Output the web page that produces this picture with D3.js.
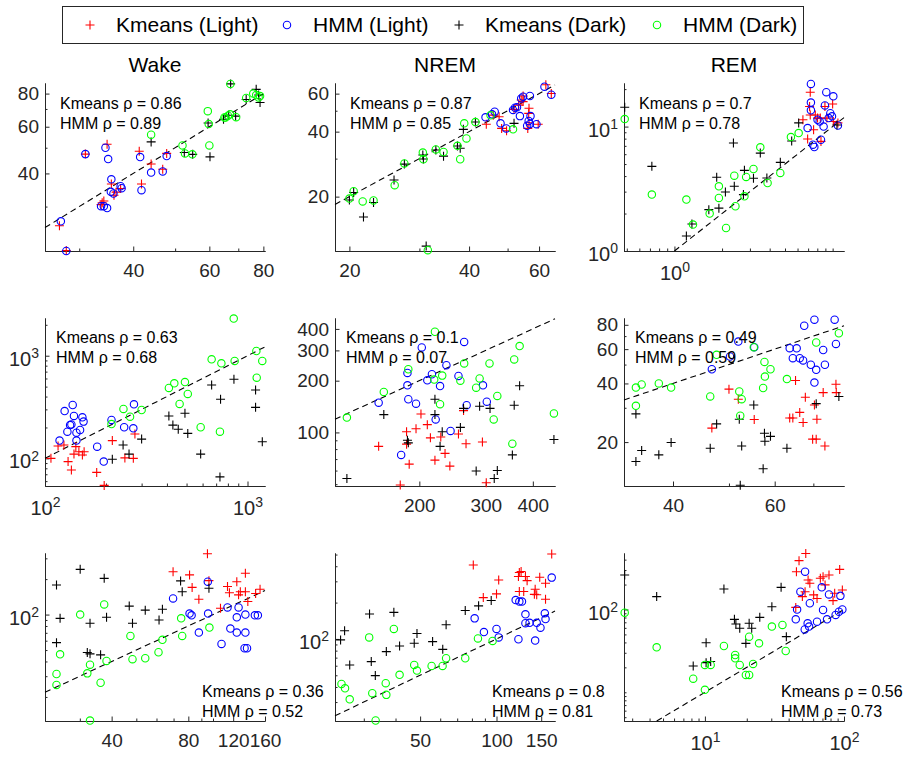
<!DOCTYPE html>
<html>
<head>
<meta charset="utf-8">
<script src="https://cdn.jsdelivr.net/npm/d3@7"></script>
<style>
  body { margin: 0; background: #fff; }
</style>
</head>
<body>
<svg id="chart" width="908" height="757"></svg>
<script>
// categories
var titles = ["Wake", "NREM", "REM"];
var seriesNames = ["Kmeans (Light)", "HMM (Light)", "Kmeans (Dark)", "HMM (Dark)"];
var seriesColors = ["#ff0000", "#0000ff", "#000000", "#00ff00"];
var seriesShapes = ["plus", "circle", "plus", "circle"];

// spearman rho, [Kmeans, HMM], one pair per panel (row by row)
var rhoKmeans = [0.86, 0.87, 0.7, 0.63, 0.1, 0.49, 0.36, 0.8, 0.56];
var rhoHmm = [0.89, 0.85, 0.78, 0.68, 0.07, 0.59, 0.52, 0.81, 0.73];

// row 1, Wake
var r1WakeKmL = [[27,25.4],[28,20.5],[31,47.3],[34.8,51.5],[33.9,31],[33.7,30.5],[34.2,31.5],[35.6,36.5],[36.1,33.1],[37.4,35.1],[41.8,36.5],[41.3,48.5],[44,43.4],[46.8,41.5],[47.8,47.6],[36.5,34]];
var r1WakeHmL = [[27.2,26.4],[28,20.4],[31,47.3],[34.5,50],[35,45.3],[35.6,38],[33.7,30.1],[34.2,30.1],[34.8,29.6],[35.5,34.1],[36,33.6],[37.4,35.8],[37.6,35.2],[41.5,46.1],[41.8,34.6],[44,40.3],[46.8,40.7],[47.8,46.5]];
var r1WakeKmD = [[44,52.6],[52.5,48],[54.9,47.2],[59.6,62],[60.2,46.2],[64.7,64],[66.5,66.3],[69,65.8],[67.2,87],[73,76],[77,83],[78.6,74],[78,79]];
var r1WakeHmD = [[44,56],[52,51],[52.7,47.6],[54.8,47.2],[59.5,68.7],[59.8,61.4],[60,51],[65,65],[65.4,65],[66.3,66],[67,66.8],[69.2,65.2],[67.1,87],[73,77],[75.8,80],[77,79],[78,77.4],[78.6,78.3]];
// row 1, NREM
var r1NremKmL = [[44.2,43.3],[47.6,46.9],[48.3,41.4],[49.7,40.4],[51.9,50.7],[53.3,53.1],[54.1,56.1],[54.7,58.5],[56.6,51.3],[56.5,48.6],[56.2,41.4],[56.6,44],[59.7,43.3],[62.4,66],[64.4,60.1],[46,47.7],[54.7,55.1]];
var r1NremHmL = [[44,46.6],[46.4,49.5],[48,43.7],[49.6,41.4],[51.6,50.4],[52.2,51.6],[52.8,51.9],[53.7,47.2],[54.1,57],[54.7,58.1],[56.9,58.5],[57.1,47.2],[56.5,44.8],[56.9,43.4],[56,42.6],[59.1,43.3],[61.9,64.6],[64.4,59.3],[45.7,48.1]];
var r1NremKmD = [[20,19.3],[20.5,20.9],[21.7,16.1],[23,18.8],[25.9,23.9],[27.5,28.3],[30.6,31.2],[30.7,29.9],[33,32.9],[34.5,30.8],[37.4,34.3],[38,33.5],[38.7,41],[41.5,44.3],[51.9,43.7],[31.2,11.8]];
var r1NremHmD = [[20,19.6],[20.5,21.2],[21.6,19],[23,19.2],[26,22.6],[27.5,28.5],[30.6,32],[30.7,29.8],[33,33.1],[34.5,32.2],[37.4,34.4],[38,29.8],[39.4,37.2],[38.9,43.7],[41.5,44.3],[45.3,47.6],[51.6,41],[31.5,11.3]];
// row 1, REM
var r1RemKmL = [[7.22,18.9],[7.15,14.5],[7.22,12.4],[6.49,11.35],[7.58,9.44],[6.95,7.94],[8.44,7.6],[8.36,11.7],[8.94,14.5],[10,15.2],[10.1,11],[9.2,11.7],[8.03,11.7],[10.8,10.7],[7.77,12.4]];
var r1RemHmL = [[7.29,22],[7.29,15.6],[7.29,13.5],[9.12,18.9],[10.1,17.5],[8.94,14.8],[6.95,9.73],[7.51,7.15],[7.66,6.85],[8.03,11.35],[8.28,11],[8.77,10],[9.67,12.8],[9.91,12.1],[10.8,10.2],[8.44,7.84],[9.44,11.7]];
var r1RemKmD = [[0.485,14.3],[0.72,4.79],[1.19,1.32],[1.29,1.65],[1.65,2.15],[1.91,2.21],[2.1,2.98],[2.39,3.31],[1.85,3.91],[2.36,7.38],[2.77,4.45],[2.73,2.84],[3.16,3.84],[3.49,6.12],[3.84,3.86],[4.67,5.16],[5.51,7.65],[6.1,10.7],[10.65,10.3]];
var r1RemHmD = [[0.485,11.5],[0.72,2.84],[1.19,2.59],[1.31,1.63],[1.67,2],[1.91,3.31],[1.91,2.67],[2.12,1.53],[2.39,4.03],[2.43,2.29],[2.77,2.75],[2.84,3.94],[3.16,4.56],[3.49,6.81],[3.88,3.52],[4.67,4.24],[5.45,8.24],[6.1,8.87]];
// row 2, Wake
var r2WakeKmL = [[107,100],[116,132],[124,135],[130,93],[135,77],[139,110],[142,130],[147,116],[153,108],[156,116],[180,73],[196,54.5],[215,149],[248,101],[273,100],[278,173]];
var r2WakeHmL = [[118,149],[125,289],[137,331],[139,259],[135,214],[129,182],[143,178],[149,189],[153,251],[155,228],[143,149],[181,130],[195,93],[213,237],[246,201],[275,336],[273,196],[133,211]];
var r2WakeKmD = [[215,98],[243,135],[260,110],[300,154],[409,259],[428,211],[455,192],[491,275],[507,175],[587,110],[665,519],[736,376],[857,589],[1096,463],[1096,314],[1183,145],[731,66]];
var r2WakeHmD = [[213,216],[244,303],[263,255],[300,296],[409,485],[435,538],[491,554],[507,424],[462,339],[587,201],[665,923],[743,843],[864,889],[855,2300],[1106,1112],[1183,889],[1110,611],[731,182]];
// row 2, NREM
var r2NremKmL = [[156,83],[178,49.5],[185,101],[185,85.5],[188,65.4],[196,105],[202,128],[210,111],[214,93],[220,69],[228,94],[234,75.5],[241,63.7],[254,98],[262,134],[266,86],[294,88],[301,51]];
var r2NremHmL = [[156,149],[179,74],[186,188],[186,222],[187,156],[196,147],[203,312],[210,201],[216,218],[221,119],[227,186],[236,246],[242,102],[254,213],[263,336],[267,144],[295,188],[302,151]];
var r2NremKmD = [[128.5,54],[161,127],[186,90],[187,87],[220,156],[220,127],[227,83],[230,101],[257,107],[262,138],[283,59.6],[289,142],[308,138],[316,54],[322,60],[353,74],[357,144],[369,187],[455,91]];
var r2NremHmD = [[128.5,122],[161,172],[187,233],[220,385],[219,203],[227,146],[230,214],[257,200],[263,252],[283,182],[289,206],[307,252],[315,119],[322,163],[353,86],[357,266],[369,318],[455,129]];
// row 2, REM
var r2RemKmL = [[46.7,23.6],[50,37.4],[51.9,33.2],[55.3,26.1],[63.7,26.6],[64.5,26.6],[65.2,41.4],[66.3,28.4],[67.2,25.2],[67.8,34],[69.8,20.7],[70.3,31],[71,26.2],[70.8,20.7],[72.8,35.9],[73.3,19.1],[76.6,39.6],[76.7,35.9]];
var r2RemHmL = [[46.7,47.3],[50.2,55],[51.9,65.6],[55.3,61.4],[63.7,60.7],[64.5,53.9],[65.5,60.6],[66.3,53.9],[67.2,52.5],[67.5,79.1],[69.3,49.9],[70.3,85],[70.8,47],[70.3,40.4],[72.8,59.4],[73.3,49.9],[76.2,85],[76.6,63.8]];
var r2RemKmD = [[34.5,27.9],[34.5,15.9],[35.3,18.1],[37.8,17.2],[39.7,19.9],[46.4,18.6],[47.6,24.8],[52.1,26.2],[52.6,19.1],[52.3,12],[55.2,31],[57.3,14.6],[57.6,22.2],[57.7,20.2],[59,21.4],[63,18.6],[70.8,31.5],[77.5,34.3]];
var r2RemHmD = [[34.5,38.1],[34.5,30.7],[35.3,39.5],[37.8,40],[39.7,38.1],[46.4,34.3],[47.6,56.1],[52.1,36.4],[52.6,33.2],[52.3,27.3],[55.2,61.4],[57.3,37.9],[57.6,51.6],[57.7,43.4],[59,47.3],[63,42.1],[70.8,64.9],[77.5,72.4]];
// row 3, Wake
var r3WakeKmL = [[69.7,231],[80.9,217],[82.8,170],[88,135],[95.1,328],[96.4,194],[107,113],[114,173],[116,153],[124,190],[126,147],[128,156],[134,224],[134,156],[137,129],[147,151],[153,164]];
var r3WakeHmL = [[69.7,137],[80.9,102],[82.4,98.6],[88,70.3],[95.4,190],[95.7,102],[108,56.4],[114,115],[117,76],[124,94.8],[126,115],[124,70.3],[134,100],[134,70.3],[133,51.8],[136,51.8],[146,98.6],[150,98.6]];
var r3WakeKmD = [[24.3,178],[24.3,57.8],[25.1,92.9],[30.1,242],[32.1,47.6],[32.9,84.3],[32.9,46.4],[36.2,45.5],[37.4,203],[38.2,94.8],[46.9,118],[48.3,84.3],[54.2,109],[63.3,111],[61.4,90],[74.6,193],[75.7,156],[96.4,167]];
var r3WakeHmD = [[24.3,31.3],[24.3,25.3],[25.1,46],[30.1,100],[32.1,31.7],[32.9,37.6],[32.9,12.6],[36.2,26.4],[37.4,122],[38.2,40.4],[47.4,65.9],[48.3,41.8],[54.2,42.6],[61.1,47.9],[63.3,61],[75,93],[75.7,65.9],[96.8,77.5]];
// row 3, NREM
var r3NremKmL = [[81,410],[88.7,220],[100,236],[102,308],[122,329],[123,355],[125,362],[123,247],[130,329],[132,304],[128,247],[142,258],[144,232],[148,324],[156,289],[156,213],[165,505],[141,234]];
var r3NremHmL = [[82,148],[89.2,114],[100,121],[102,103],[119,210],[123,204],[126,204],[122,99.4],[130,160],[130,135],[135,136],[142,96.9],[144,136],[149,124],[155,163],[156,146],[165,322]];
var r3NremKmD = [[24.3,98.2],[25.2,117],[26.4,60.9],[31.6,161],[32.1,64.9],[33.3,49.7],[36.8,78.5],[39.4,166],[41.5,87.5],[47.4,92.1],[48.6,111],[56,95],[61.4,82],[63.3,131],[75.3,172],[85,188],[95.3,208]];
var r3NremHmD = [[24.5,42.4],[25.3,39],[26.4,31.6],[31.5,103],[32.4,35.5],[33.4,21.1],[36.6,43],[36.8,34.4],[39.4,121],[41.5,50.4],[47.4,60.9],[48.6,54.7],[55.5,59.7],[61.3,59.7],[63.3,69.2],[75.3,69.2],[84.5,101],[96.5,96.2]];
// row 3, REM
var r3RemKmL = [[45.5,286],[47.5,389],[53.1,475],[45,106],[50.2,143],[55.2,227],[56.8,207],[60.5,150],[64,136],[67.6,238],[70.7,249],[78,261],[83.4,128],[93.1,305],[97.3,172],[85.7,157],[52.5,164],[73.1,198]];
var r3RemHmL = [[45,76],[46,100],[52.2,57.5],[52.5,286],[54.8,68.1],[56.1,62.1],[48.6,164],[56.8,119],[64,71.3],[69.2,185],[70.7,98.6],[75.5,76],[78,152],[87.1,85.9],[92,94.2],[94.2,146],[97.3,100]];
var r3RemKmD = [[2.65,261],[4.5,143],[8.24,20.8],[10.2,39.7],[10.2,22.8],[11,23.5],[13.7,177],[16.3,76],[16.7,66.8],[17.8,59.3],[19.7,39],[20.8,68.1],[21.7,59.3],[24.8,80.4],[30.3,108],[35.3,185],[38.5,47]];
var r3RemHmD = [[2.65,91.6],[4.5,34.9],[8.24,14.6],[10,10.7],[10,21.4],[11,21.4],[13.7,36.2],[16.5,28.2],[16.5,25.7],[17.8,21.4],[19.7,16.2],[20.8,16.2],[20.8,47],[22.2,22],[24.5,39],[30.3,62.1],[36.1,65],[38.1,31.5]];

// tick labels
var r1WakeTicks = [40, 60, 80];
var r1NremTicks = [20, 40, 60];
var r1RemXTicks = [1];
var r1RemYTicks = [1, 10];
var r2WakeTicks = [100, 1000];
var r2NremXTicks = [200, 300, 400];
var r2NremYTicks = [100, 200, 300, 400];
var r2RemXTicks = [40, 60];
var r2RemYTicks = [20, 40, 60, 80];
var r3WakeXTicks = [40, 80, 120, 160];
var r3NremXTicks = [50, 100, 150];
var r3RemXTicks = [10, 100];
var r3YTicks = [100];

// panel settings (axis limits as in the figure)
var panels = [
  {row: 0, col: 0, xDom: [25, 80.7], yDom: [20.4, 87.7], xTicks: r1WakeTicks, yTicks: r1WakeTicks, series: [r1WakeKmL, r1WakeHmL, r1WakeKmD, r1WakeHmD]},
  {row: 0, col: 1, xDom: [18.4, 65.8], yDom: [11.2, 67.2], xTicks: r1NremTicks, yTicks: r1NremTicks, series: [r1NremKmL, r1NremHmL, r1NremKmD, r1NremHmD]},
  {row: 0, col: 2, xDom: [0.48, 11.8], yDom: [1, 22.4], xTicks: r1RemXTicks, yTicks: r1RemYTicks, xSup: true, ySup: true, series: [r1RemKmL, r1RemHmL, r1RemKmD, r1RemHmD]},
  {row: 1, col: 0, xDom: [100, 1220], yDom: [53.8, 2330], xTicks: r2WakeTicks, yTicks: r2WakeTicks, xSup: true, ySup: true, series: [r2WakeKmL, r2WakeHmL, r2WakeKmD, r2WakeHmD]},
  {row: 1, col: 1, xDom: [119.5, 458], yDom: [48.8, 463], xTicks: r2NremXTicks, yTicks: r2NremYTicks, series: [r2NremKmL, r2NremHmL, r2NremKmD, r2NremHmD]},
  {row: 1, col: 2, xDom: [32.9, 79.1], yDom: [11.9, 86.7], xTicks: r2RemXTicks, yTicks: r2RemYTicks, series: [r2RemKmL, r2RemHmL, r2RemKmD, r2RemHmD]},
  {row: 2, col: 0, xDom: [21.9, 160], yDom: [12.5, 333], xTicks: r3WakeXTicks, yTicks: r3YTicks, ySup: true, series: [r3WakeKmL, r3WakeHmL, r3WakeKmD, r3WakeHmD]},
  {row: 2, col: 1, xDom: [23.1, 170], yDom: [20.9, 515], xTicks: r3NremXTicks, yTicks: r3YTicks, ySup: true, series: [r3NremKmL, r3NremHmL, r3NremKmD, r3NremHmD]},
  {row: 2, col: 2, xDom: [2.62, 100], yDom: [4.5, 481], xTicks: r3RemXTicks, yTicks: r3YTicks, xSup: true, ySup: true, series: [r3RemKmL, r3RemHmL, r3RemKmD, r3RemHmD]}
];

var fontFam = "Helvetica, Arial, 'Liberation Sans', sans-serif";
var axisColor = "#262626";
var colLeft = [45, 335, 624];
var rowTop = [83, 318, 553];
var W = 220, H = 168;

var svg = d3.select("#chart").attr("font-family", fontFam);

//marcador: cruz o circulo
function drawMarker(g, shape, color, cx, cy) {
  if (shape == "plus") {
    g.append("path")
      .attr("d", "M" + (cx - 4.5) + "," + cy + "H" + (cx + 4.5) + "M" + cx + "," + (cy - 4.5) + "V" + (cy + 4.5))
      .attr("stroke", color)
      .attr("stroke-width", 1.1)
      .attr("fill", "none");
  } else {
    g.append("circle")
      .attr("cx", cx)
      .attr("cy", cy)
      .attr("r", 3.7)
      .attr("stroke", color)
      .attr("stroke-width", 1.1)
      .attr("fill", "none");
  }
}

// ticks menores en escala log
function minorTicks(dom, major) {
  var out = [];
  var k0 = Math.floor(Math.log10(dom[0])), k1 = Math.ceil(Math.log10(dom[1]));
  for (var k = k0; k <= k1; k++) {
    for (var m = 1; m < 10; m++) {
      var v = m * Math.pow(10, k);
      if (v >= dom[0] && v <= dom[1] && major.indexOf(v) < 0) out.push(v);
    }
  }
  return out;
}

function supText(sel) {
  sel.each(function (d) {
    var t = d3.select(this);
    t.text("10").attr("font-size", 20);
    t.append("tspan")
      .attr("dy", "-0.55em")
      .attr("font-size", 14)
      .text(Math.round(Math.log10(d)));
  });
}

function styleAxis(g) {
  g.attr("font-family", fontFam).attr("font-size", 19);
  g.selectAll("path, line").attr("stroke", axisColor);
  g.selectAll("text").attr("fill", axisColor);
}

panels.forEach(function (p, i) {
  var x0 = colLeft[p.col], y0 = rowTop[p.row];
  var xScale = d3.scaleLog().domain(p.xDom).range([x0, x0 + W]);
  var yScale = d3.scaleLog().domain(p.yDom).range([y0 + H, y0]);
  var g = svg.append("g");

  // ejes menores
  g.append("g")
    .attr("transform", "translate(0," + (y0 + H) + ")")
    .call(d3.axisBottom(xScale).tickValues(minorTicks(p.xDom, p.xTicks)).tickSizeInner(-2.5).tickSizeOuter(0).tickFormat(""))
    .call(styleAxis);
  g.append("g")
    .attr("transform", "translate(" + x0 + ",0)")
    .call(d3.axisLeft(yScale).tickValues(minorTicks(p.yDom, p.yTicks)).tickSizeInner(-2.5).tickSizeOuter(0).tickFormat(""))
    .call(styleAxis);

  // ejes principales
  var xAx = g.append("g")
    .attr("transform", "translate(0," + (y0 + H) + ")")
    .call(d3.axisBottom(xScale).tickValues(p.xTicks).tickSizeInner(-4.5).tickSizeOuter(0).tickPadding(13).tickFormat(d3.format("d")))
    .call(styleAxis);
  var yAx = g.append("g")
    .attr("transform", "translate(" + x0 + ",0)")
    .call(d3.axisLeft(yScale).tickValues(p.yTicks).tickSizeInner(-4.5).tickSizeOuter(0).tickPadding(6).tickFormat(d3.format("d")))
    .call(styleAxis);
  if (p.xSup) xAx.selectAll(".tick text").attr("dy", "0.78em").call(supText);
  if (p.ySup) yAx.selectAll(".tick text").attr("dy", "0.48em").call(supText);

  // linea identidad punteada
  var t0 = Math.max(p.xDom[0], p.yDom[0]);
  var t1 = Math.min(p.xDom[1], p.yDom[1]);
  g.append("line")
    .attr("x1", xScale(t0)).attr("y1", yScale(t0))
    .attr("x2", xScale(t1)).attr("y2", yScale(t1))
    .attr("stroke", "#000")
    .attr("stroke-width", 1.1)
    .attr("stroke-dasharray", "6,4");

  // puntos
  p.series.forEach(function (data, s) {
    data.forEach(function (d) {
      drawMarker(g, seriesShapes[s], seriesColors[s], xScale(d[0]), yScale(d[1]));
    });
  });

  // texto rho
  var tx, ty;
  if (p.row == 0) { tx = x0 + 15; ty = y0 + 20; }
  else if (p.row == 1) { tx = x0 + 11; ty = y0 + 19; }
  else { tx = x0 + 157; ty = y0 + 138; }
  g.append("text").attr("x", tx).attr("y", ty).attr("dy", "0.35em")
    .attr("font-size", 16).attr("fill", "#000")
    .text("Kmeans \u03c1 = " + rhoKmeans[i]);
  g.append("text").attr("x", tx).attr("y", ty + 20.5).attr("dy", "0.35em")
    .attr("font-size", 16).attr("fill", "#000")
    .text("HMM \u03c1 = " + rhoHmm[i]);

  if (p.row == 0) {
    svg.append("text")
      .attr("x", x0 + W / 2)
      .attr("y", 72)
      .attr("text-anchor", "middle")
      .attr("font-size", 21)
      .attr("fill", "#000")
      .text(titles[p.col]);
  }
});

// leyenda
var legend = svg.append("g");
legend.append("rect")
  .attr("x", 62.5).attr("y", 6.5)
  .attr("width", 741).attr("height", 37)
  .attr("fill", "#fff")
  .attr("stroke", axisColor)
  .attr("stroke-width", 1);
var legMarkX = [90, 287, 459, 657];
seriesNames.forEach(function (name, s) {
  drawMarker(legend, seriesShapes[s], seriesColors[s], legMarkX[s], 25);
  legend.append("text")
    .attr("x", legMarkX[s] + 26)
    .attr("y", 25)
    .attr("dy", "0.35em")
    .attr("font-size", 21)
    .attr("fill", "#000")
    .text(name);
});
</script>
</body>
</html>
